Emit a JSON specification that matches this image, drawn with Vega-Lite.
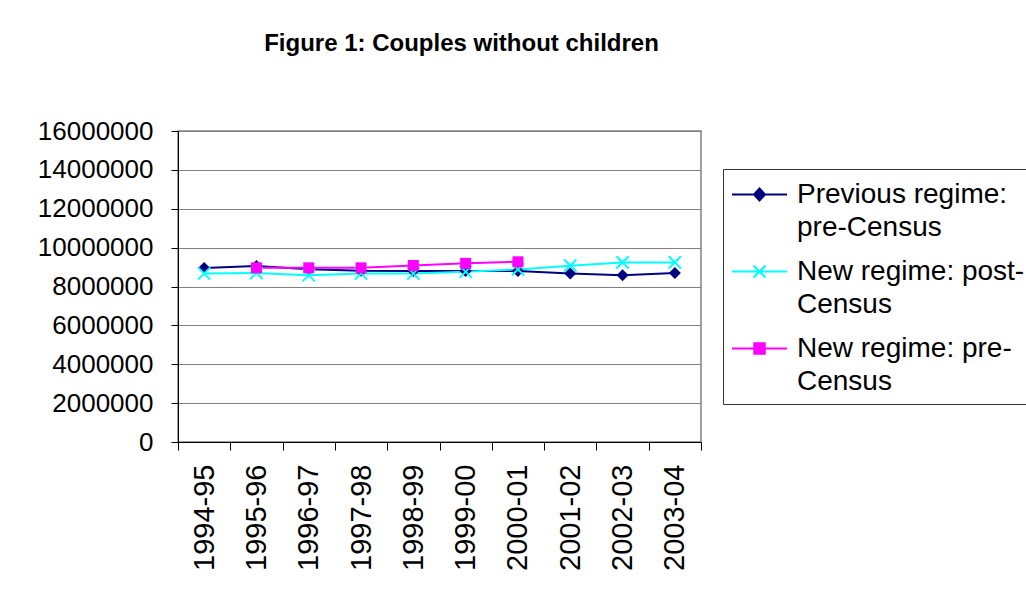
{
  "$schema": "https://vega.github.io/schema/vega-lite/v6.json",
  "width": 523,
  "height": 311,
  "autosize": {"type": "none"},
  "padding": {"left": 178, "top": 131, "right": 325, "bottom": 148},
  "background": "white",
  "config": {
    "font": "Liberation Sans",
    "view": {"stroke": "#808080", "strokeWidth": 1.5}
  },
  "title": {
    "text": "Figure 1: Couples without children",
    "fontSize": 24,
    "fontWeight": "bold",
    "color": "black",
    "baseline": "alphabetic",
    "anchor": "middle",
    "frame": "group",
    "offset": 43,
    "dx": 22
  },
  "data": {
    "values": [
      {"year": "1994-95", "series": "Previous regime: pre-Census", "value": 8950000},
      {"year": "1995-96", "series": "Previous regime: pre-Census", "value": 9050000},
      {"year": "1996-97", "series": "Previous regime: pre-Census", "value": 8890000},
      {"year": "1997-98", "series": "Previous regime: pre-Census", "value": 8810000},
      {"year": "1998-99", "series": "Previous regime: pre-Census", "value": 8800000},
      {"year": "1999-00", "series": "Previous regime: pre-Census", "value": 8800000},
      {"year": "2000-01", "series": "Previous regime: pre-Census", "value": 8800000},
      {"year": "2001-02", "series": "Previous regime: pre-Census", "value": 8670000},
      {"year": "2002-03", "series": "Previous regime: pre-Census", "value": 8580000},
      {"year": "2003-04", "series": "Previous regime: pre-Census", "value": 8700000},
      {"year": "1994-95", "series": "New regime: post-Census", "value": 8670000},
      {"year": "1995-96", "series": "New regime: post-Census", "value": 8700000},
      {"year": "1996-97", "series": "New regime: post-Census", "value": 8580000},
      {"year": "1997-98", "series": "New regime: post-Census", "value": 8670000},
      {"year": "1998-99", "series": "New regime: post-Census", "value": 8670000},
      {"year": "1999-00", "series": "New regime: post-Census", "value": 8760000},
      {"year": "2000-01", "series": "New regime: post-Census", "value": 8880000},
      {"year": "2001-02", "series": "New regime: post-Census", "value": 9070000},
      {"year": "2002-03", "series": "New regime: post-Census", "value": 9240000},
      {"year": "2003-04", "series": "New regime: post-Census", "value": 9240000},
      {"year": "1995-96", "series": "New regime: pre-Census", "value": 8960000},
      {"year": "1996-97", "series": "New regime: pre-Census", "value": 8960000},
      {"year": "1997-98", "series": "New regime: pre-Census", "value": 8960000},
      {"year": "1998-99", "series": "New regime: pre-Census", "value": 9080000},
      {"year": "1999-00", "series": "New regime: pre-Census", "value": 9190000},
      {"year": "2000-01", "series": "New regime: pre-Census", "value": 9270000}
    ]
  },
  "encoding": {
    "x": {
      "field": "year",
      "type": "ordinal",
      "bandPosition": 0.5,
      "scale": {"type": "band", "paddingInner": 0, "paddingOuter": 0},
      "axis": {
        "title": null,
        "labelAngle": 270,
        "labelFontSize": 29,
        "labelColor": "black",
        "labelPadding": 14,
        "tickBand": "extent",
        "tickSize": 8,
        "tickColor": "black",
        "domainColor": "black",
        "grid": false
      }
    },
    "y": {
      "field": "value",
      "type": "quantitative",
      "scale": {"domain": [0, 16000000]},
      "axis": {
        "title": null,
        "values": [0, 2000000, 4000000, 6000000, 8000000, 10000000, 12000000, 14000000, 16000000],
        "format": "d",
        "labelFontSize": 26,
        "labelColor": "black",
        "labelPadding": 18,
        "tickSize": 7,
        "tickColor": "black",
        "domainColor": "black",
        "gridColor": "#808080",
        "gridOpacity": 1
      }
    },
    "color": {
      "field": "series",
      "type": "nominal",
      "scale": {
        "domain": ["Previous regime: pre-Census", "New regime: post-Census", "New regime: pre-Census"],
        "range": ["#000080", "#00FFFF", "#FF00FF"]
      },
      "legend": {
        "title": null,
        "orient": "none",
        "legendX": 545,
        "legendY": 38,
        "strokeColor": "#333333",
        "fillColor": "white",
        "padding": 8,
        "labelFontSize": 28,
        "labelColor": "black",
        "labelLimit": 400,
        "labelOffset": 9,
        "rowPadding": 12,
        "symbolSize": 3025,
        "symbolStrokeWidth": 2,
        "labelExpr": "datum.label == 'Previous regime: pre-Census' ? ['Previous regime:', 'pre-Census'] : datum.label == 'New regime: post-Census' ? ['New regime: post-', 'Census'] : ['New regime: pre-', 'Census']",
        "encode": {
          "symbols": {
            "update": {
              "shape": {"signal": "datum.value == 'Previous regime: pre-Census' ? 'M-1,-0.4H1M0,-0.62L0.2,-0.4L0,-0.18L-0.2,-0.4Z' : datum.value == 'New regime: post-Census' ? 'M-1,-0.4H1M-0.22,-0.62L0.22,-0.18M0.22,-0.62L-0.22,-0.18' : 'M-1,-0.4H1M-0.19,-0.59H0.19V-0.21H-0.19Z'"},
              "fill": {"scale": "color", "field": "value"},
              "stroke": {"scale": "color", "field": "value"},
              "opacity": {"value": 1}
            }
          },
          "labels": {
            "update": {"lineHeight": {"value": 33}, "dy": {"value": -11}}
          }
        }
      }
    }
  },
  "layer": [
    {
      "mark": {"type": "line", "strokeWidth": 2}
    },
    {
      "transform": [{"filter": "datum.series == 'Previous regime: pre-Census'"}],
      "mark": {"type": "point", "shape": "diamond", "filled": true, "opacity": 1, "size": 144}
    },
    {
      "transform": [{"filter": "datum.series == 'New regime: post-Census'"}],
      "mark": {"type": "point", "shape": "M-1,-1L1,1M1,-1L-1,1", "filled": false, "strokeWidth": 2, "opacity": 1, "size": 150}
    },
    {
      "transform": [{"filter": "datum.series == 'New regime: pre-Census'"}],
      "mark": {"type": "point", "shape": "square", "filled": true, "opacity": 1, "size": 121}
    }
  ]
}
